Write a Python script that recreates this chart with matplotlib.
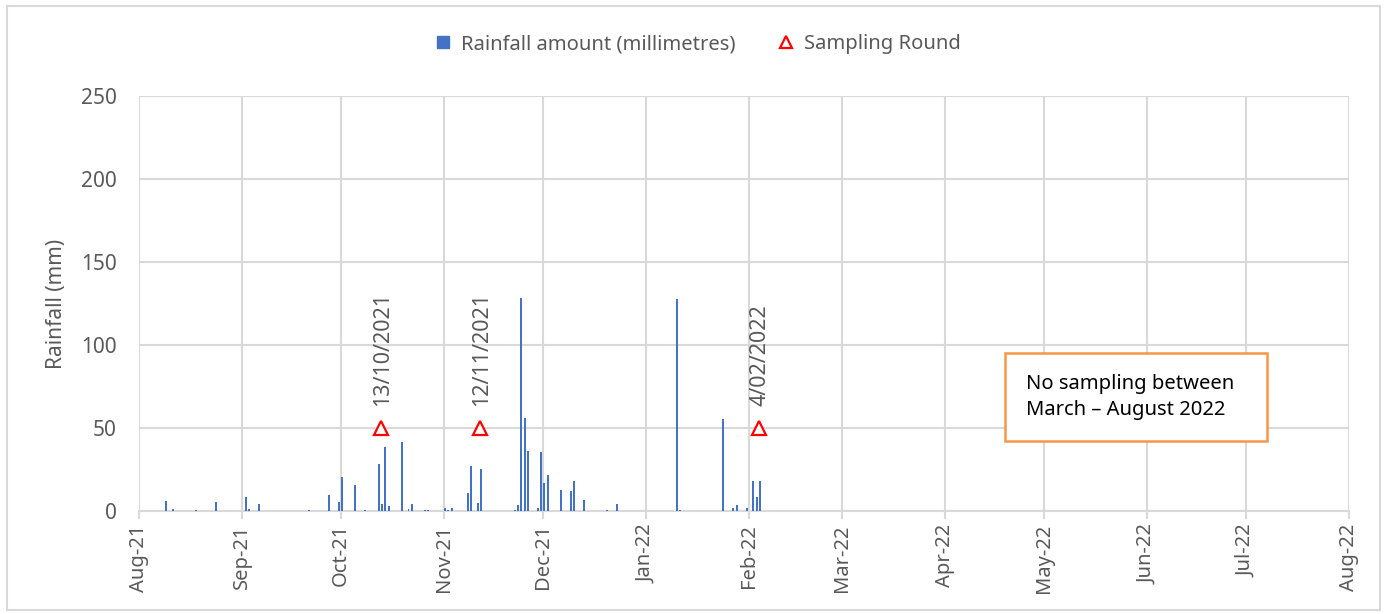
import matplotlib
matplotlib.use("Agg")
import matplotlib.pyplot as plt
import matplotlib.dates as mdates
from matplotlib.lines import Line2D
from matplotlib.patches import Rectangle
import pandas as pd

# daily rainfall (mm)
rain_dates = [
    "2021-08-09", "2021-08-11", "2021-08-18", "2021-08-24",
    "2021-09-02", "2021-09-03", "2021-09-06", "2021-09-21", "2021-09-27", "2021-09-30",
    "2021-10-01", "2021-10-05", "2021-10-08", "2021-10-12", "2021-10-13", "2021-10-14",
    "2021-10-15", "2021-10-19", "2021-10-21", "2021-10-22", "2021-10-26", "2021-10-27",
    "2021-11-01", "2021-11-02", "2021-11-03", "2021-11-08", "2021-11-09", "2021-11-11",
    "2021-11-12", "2021-11-22", "2021-11-23", "2021-11-24", "2021-11-25", "2021-11-26",
    "2021-11-29", "2021-11-30", "2021-12-01", "2021-12-02", "2021-12-06", "2021-12-09",
    "2021-12-10", "2021-12-13", "2021-12-20", "2021-12-23",
    "2022-01-10", "2022-01-11", "2022-01-24", "2022-01-27", "2022-01-28", "2022-01-31",
    "2022-02-02", "2022-02-03", "2022-02-04",
]
rain_mm = [
    6.3, 1.0, 0.3, 5.4,
    8.5, 1.0, 4.4, 0.3, 9.4, 5.7,
    20.5, 15.8, 0.5, 28.1, 4.4, 38.7,
    3.2, 41.6, 1.0, 4.4, 0.6, 0.6,
    1.6, 0.5, 2.0, 10.6, 26.9, 5.0,
    25.5, 0.8, 3.4, 128.1, 56.2, 36.1,
    1.5, 35.3, 16.9, 21.9, 12.8, 12.2,
    18.0, 6.6, 0.3, 4.4,
    127.7, 0.5, 55.4, 1.5, 3.4, 1.5,
    18.0, 8.4, 18.0,
]

sample_dates = ["2021-10-13", "2021-11-12", "2022-02-04"]
sample_labels = ["13/10/2021", "12/11/2021", "4/02/2022"]
sample_level = [50, 50, 50]

month_ticks = pd.date_range("2021-08-01", "2022-08-01", freq="MS")

grey_text = "#595959"
grid_col = "#d9d9d9"
bar_col = "#4472C4"

plt.rcParams["font.family"] = ["Noto Sans", "DejaVu Sans"]

fig = plt.figure(figsize=(13.87, 6.14), dpi=100)
ax = fig.add_axes([0.1002, 0.1678, 0.9726 - 0.1002, 0.8436 - 0.1678])

x_rain = pd.to_datetime(rain_dates)
ax.bar(x_rain, rain_mm, width=0.6, align="edge", color=bar_col, zorder=3)

x_samp = pd.to_datetime(sample_dates)
ax.plot(x_samp, sample_level, linestyle="none", marker="^", markersize=10,
        markerfacecolor="white", markeredgecolor="red", markeredgewidth=1.6, zorder=4)
for d, lab, v in zip(x_samp, sample_labels, sample_level):
    ax.annotate(lab, xy=(d, v), xytext=(1, 16), textcoords="offset points",
                rotation=90, ha="center", va="bottom", fontsize=15.5, color=grey_text)

ax.set_xlim(month_ticks[0], month_ticks[-1])
ax.set_ylim(0, 250)
ax.set_yticks(range(0, 251, 50))
ax.set_xticks(month_ticks)
ax.xaxis.set_major_formatter(mdates.DateFormatter("%b-%y"))
ax.tick_params(axis="x", rotation=90, labelsize=14.5, colors=grey_text,
               length=6, width=1.5, color=grid_col)
ax.tick_params(axis="y", labelsize=15, colors=grey_text, length=0, pad=16)
ax.grid(True, color=grid_col, linewidth=1.5, zorder=0)
ax.set_axisbelow(True)
for s in ["top", "right", "left"]:
    ax.spines[s].set_visible(False)
ax.spines["bottom"].set_color(grid_col)
ax.spines["bottom"].set_linewidth(1.5)
ax.set_ylabel("Rainfall (mm)", fontsize=15, color=grey_text, labelpad=10)

# note box
ax.add_patch(Rectangle((0.7157, 0.1687), 0.2165, 0.212, transform=ax.transAxes,
                       facecolor="white", edgecolor="#F79646", linewidth=1.8, zorder=5))
ax.text(0.733, 0.2747, "No sampling between\nMarch \u2013 August 2022", transform=ax.transAxes,
        ha="left", va="center", fontsize=14.5, color="black", linespacing=1.45, zorder=6)

handles = [
    Line2D([], [], linestyle="none", marker="s", markersize=9, color=bar_col),
    Line2D([], [], linestyle="none", marker="^", markersize=9, markerfacecolor="white",
           markeredgecolor="red", markeredgewidth=1.6),
]
fig.legend(handles, ["Rainfall amount (millimetres)", "Sampling Round"],
           loc="center", bbox_to_anchor=(0.499, 0.928), ncol=2, frameon=False,
           fontsize=14.5, labelcolor=grey_text, handletextpad=-0.1, columnspacing=1.5)

# chart-area border
fig.add_artist(Rectangle((0.005, 0.006), 0.99, 0.985, transform=fig.transFigure,
                         fill=False, edgecolor=grid_col, linewidth=1.5))

fig.savefig("out.png", dpi=100)
